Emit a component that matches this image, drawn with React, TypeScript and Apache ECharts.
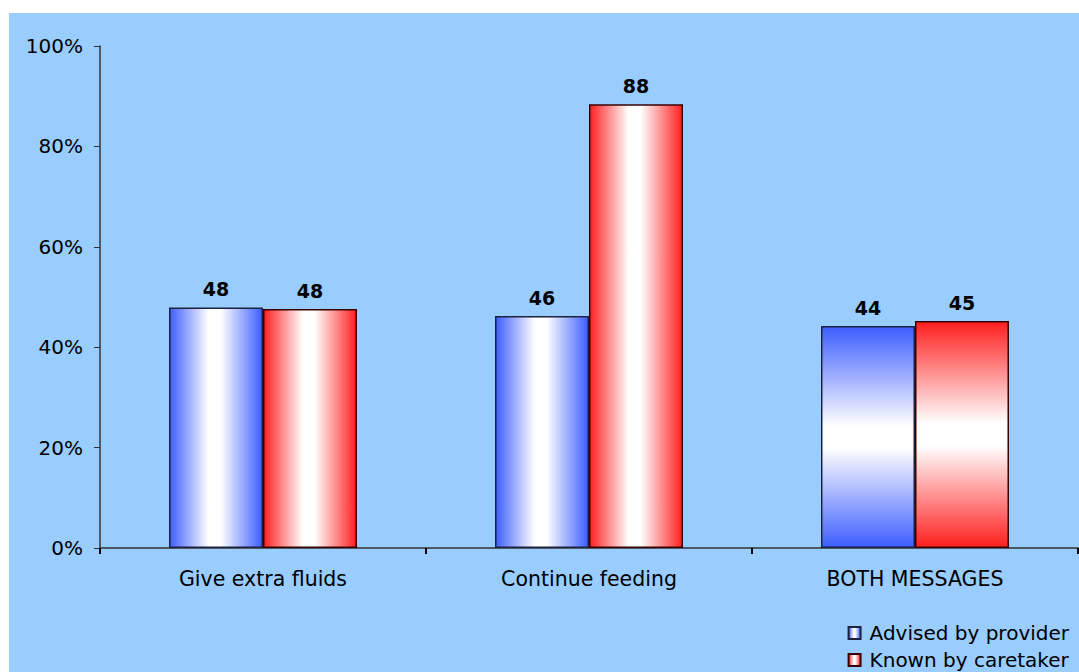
import React, { useEffect, useRef } from "react";
import * as echarts from "echarts";

const categories = ["Give extra fluids", "Continue feeding", "BOTH MESSAGES"];
const seriesNames = ["Advised by provider", "Known by caretaker"];
const providerValues = [47.9, 46.2, 44.2];
const caretakerValues = [47.6, 88.4, 45.2];
const yTicks = { min: 0, max: 100, interval: 20 };

const BLUE = "#3d5eff";
const RED = "#ff1f1f";

// Horizontal "cylinder" shading: colour at both edges, white in the middle.
const sideShade = (c: string) =>
  new echarts.graphic.LinearGradient(0, 0, 1, 0, [
    { offset: 0, color: c },
    { offset: 0.42, color: "#ffffff" },
    { offset: 0.55, color: "#ffffff" },
    { offset: 1, color: c },
  ]);

// Vertical shading: colour at top and bottom, white in the middle.
const bandShade = (c: string) =>
  new echarts.graphic.LinearGradient(0, 0, 0, 1, [
    { offset: 0, color: c },
    { offset: 0.45, color: "#ffffff" },
    { offset: 0.55, color: "#ffffff" },
    { offset: 1, color: c },
  ]);

const FONT = "'DejaVu Sans', Verdana, sans-serif";

export default function App() {
  const ref = useRef<HTMLDivElement>(null);

  useEffect(() => {
    if (!ref.current) return;
    const chart = echarts.init(ref.current, undefined, { renderer: "svg" });

    const buildData = (values: number[], color: string) =>
      values.map((v, i) => ({
        value: v,
        itemStyle: { color: i === 2 ? bandShade(color) : sideShade(color) },
      }));

    const label = {
      show: true,
      position: "top" as const,
      distance: 9,
      color: "#000",
      fontFamily: FONT,
      fontWeight: "bold" as const,
      fontSize: 19,
      formatter: (p: any) => String(Math.round(p.value)),
    };

    chart.setOption({
      animation: false,
      backgroundColor: "transparent",
      grid: { left: 100, right: 1, top: 46, bottom: 124, containLabel: false },
      legend: {
        orient: "vertical",
        right: 10,
        bottom: 2,
        padding: 0,
        itemWidth: 12,
        itemHeight: 12,
        itemGap: 7,
        icon: "rect",
        textStyle: {
          fontFamily: FONT,
          fontSize: 20,
          color: "#000",
          padding: [0, 0, 0, 4],
        },
        data: seriesNames,
      },
      xAxis: {
        type: "category",
        data: categories,
        axisLine: { lineStyle: { color: "#333", width: 1.5 } },
        axisTick: { show: true, length: 6, lineStyle: { color: "#000", width: 2 } },
        axisLabel: { margin: 20, fontFamily: FONT, fontSize: 20.5, color: "#000" },
      },
      yAxis: {
        type: "value",
        min: yTicks.min,
        max: yTicks.max,
        interval: yTicks.interval,
        splitLine: { show: false },
        axisLine: { show: true, lineStyle: { color: "#333", width: 1.5 } },
        axisTick: { show: true, length: 6, lineStyle: { color: "#333" } },
        axisLabel: {
          margin: 17,
          formatter: "{value}%",
          fontFamily: FONT,
          fontSize: 20,
          color: "#000",
        },
      },
      series: [
        {
          name: seriesNames[0],
          type: "bar",
          barWidth: 94,
          barGap: "0%",
          itemStyle: { color: sideShade(BLUE), borderColor: "#1c2340", borderWidth: 1.5 },
          label,
          data: buildData(providerValues, BLUE),
        },
        {
          name: seriesNames[1],
          type: "bar",
          barWidth: 94,
          barGap: "0%",
          itemStyle: { color: sideShade(RED), borderColor: "#3a0000", borderWidth: 1.5 },
          label,
          data: buildData(caretakerValues, RED),
        },
      ],
    });

    return () => chart.dispose();
  }, []);

  return (
    <div
      style={{
        position: "fixed",
        left: 0,
        top: 0,
        width: 1079,
        height: 672,
        background: "#ffffff",
      }}
    >
      <div
        style={{
          position: "absolute",
          left: 9,
          top: 13,
          right: 0,
          bottom: 0,
          background: "#99ccff",
        }}
      />
      <div
        ref={ref}
        style={{ position: "absolute", left: 0, top: 0, width: 1079, height: 672 }}
      />
    </div>
  );
}
